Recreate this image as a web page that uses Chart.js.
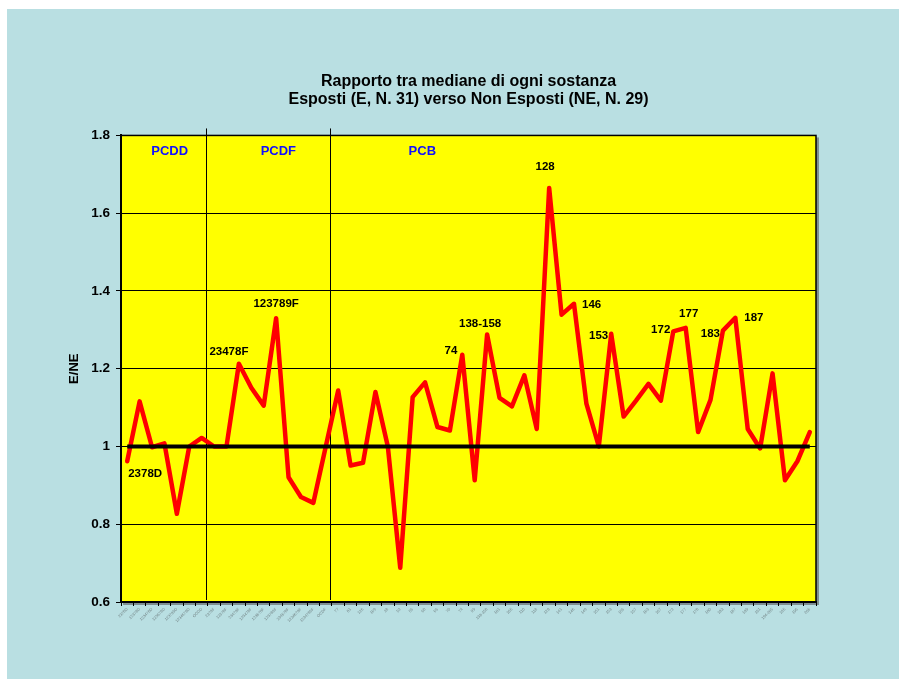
<!DOCTYPE html>
<html>
<head>
<meta charset="utf-8">
<script src="https://cdn.jsdelivr.net/npm/chart.js@4/dist/chart.umd.min.js"></script>
<style>
  html, body { margin: 0; padding: 0; background: #fff; overflow: hidden; }
  #wrap { position: absolute; left: 7px; top: 9px; width: 892px; height: 670px; background: #b9dfe2; }
</style>
</head>
<body>
<div id="wrap"><canvas id="myChart" width="892" height="670"></canvas></div>
<script>
// congeners on the x axis
var categories = [
  '2378D', '12378D', '123478D', '123678D', '123789D', '1234678D', 'OCDD',
  '2378F', '12378F', '23478F', '123478F', '123678F', '123789F', '234678F', '1234678F', '1234789F', 'OCDF',
  '77', '81', '126', '169', '28', '52', '56', '60', '66', '70', '74', '99', '138-158',
  '101', '105', '110', '118', '128', '141', '146', '149', '151', '153', '156', '157',
  '163', '167', '172', '177', '178', '180', '183', '187', '189', '191', '194-205', '195', '196', '206'
];

// E/NE ratio of medians
var ratioEN = [
  0.962, 1.116, 0.998, 1.008, 0.827, 1.0, 1.022,
  1.0, 1.0, 1.213, 1.151, 1.105, 1.33, 0.921, 0.870, 0.855, 1.0,
  1.144, 0.951, 0.958, 1.140, 1.0, 0.688, 1.127, 1.165, 1.050, 1.041, 1.236, 0.913, 1.288,
  1.125, 1.103, 1.183, 1.045, 1.665, 1.339, 1.367, 1.110, 1.0, 1.29, 1.077, 1.118,
  1.161, 1.118, 1.296, 1.305, 1.037, 1.120, 1.298, 1.331, 1.045, 0.995, 1.188, 0.913, 0.962, 1.037
];

var referenceLine = categories.map(function() { return 1; });

var labelledCategories = ['2378D', '23478F', '123789F', '74', '138-158', '128', '146', '153', '172', '177', '183', '187'];

var groups = [
  { name: 'PCDD', first: 0, last: 6 },
  { name: 'PCDF', first: 7, last: 16 },
  { name: 'PCB', first: 17, last: 55 }
];

var yTicks = [0.6, 0.8, 1.0, 1.2, 1.4, 1.6, 1.8];

var FONT = "'Liberation Sans', Arial, sans-serif";

// where each point label sits relative to its point
var labelPlacement = {
  '2378D': { align: 'left', dx: 1, dy: 13 },
  '23478F': { align: 'center', dx: -10, dy: -12 },
  '123789F': { align: 'center', dx: 0, dy: -14 },
  '74': { align: 'right', dx: -5, dy: -4 },
  '138-158': { align: 'center', dx: -7, dy: -11 },
  '128': { align: 'center', dx: -4, dy: -21 },
  '146': { align: 'left', dx: 8, dy: 1 },
  '153': { align: 'right', dx: -3, dy: 2 },
  '172': { align: 'right', dx: -3, dy: -2 },
  '177': { align: 'center', dx: 3, dy: -14 },
  '183': { align: 'right', dx: -3, dy: 3 },
  '187': { align: 'left', dx: 9, dy: 0 }
};
// header anchor, in category units
var groupHeaderPos = { 'PCDD': 3.42, 'PCDF': 12.18, 'PCB': 23.78 };

var plotBackground = {
  id: 'plotBackground',
  beforeDraw: function(chart) {
    var a = chart.chartArea, ctx = chart.ctx;
    ctx.save();
    ctx.fillStyle = '#7f8f91';
    ctx.fillRect(a.left + 2, a.top + 2, a.right - a.left + 1, a.bottom - a.top + 1);
    ctx.fillStyle = '#ffff00';
    ctx.fillRect(a.left, a.top, a.right - a.left, a.bottom - a.top);
    ctx.restore();
  },
  beforeDatasetsDraw: function(chart) {
    var a = chart.chartArea, ctx = chart.ctx, x = chart.scales.x;
    ctx.save();
    ctx.strokeStyle = '#000';
    ctx.lineWidth = 1;
    groups.forEach(function(g, i) {
      if (i > 0) {
        var px = Math.round(x.getPixelForValue(g.first - 0.62)) + 0.5;
        ctx.beginPath();
        ctx.moveTo(px, a.top - 7);
        ctx.lineTo(px, a.bottom - 2);
        ctx.stroke();
      }
      ctx.fillStyle = '#1010ff';
      ctx.font = 'bold 13px ' + FONT;
      ctx.textAlign = 'center';
      ctx.textBaseline = 'middle';
      ctx.fillText(g.name, x.getPixelForValue(groupHeaderPos[g.name]), a.top + 16);
    });
    ctx.strokeStyle = '#000';
    ctx.lineWidth = 1.5;
    ctx.strokeRect(a.left, a.top, a.right - a.left, a.bottom - a.top);
    ctx.restore();
  },
  afterDatasetsDraw: function(chart) {
    var ctx = chart.ctx, meta = chart.getDatasetMeta(0);
    ctx.save();
    ctx.fillStyle = '#000';
    ctx.font = 'bold 11.5px ' + FONT;
    ctx.textBaseline = 'middle';
    labelledCategories.forEach(function(name) {
      var i = categories.indexOf(name);
      var p = meta.data[i], pl = labelPlacement[name];
      ctx.textAlign = pl.align;
      ctx.fillText(name, p.x + pl.dx, p.y + pl.dy);
    });
    ctx.restore();
  }
};

window.onload = function() {
  var ctx = document.getElementById('myChart').getContext('2d');
  window.myLine = new Chart(ctx, {
    type: 'line',
    data: {
      labels: categories,
      datasets: [{
        label: 'E/NE',
        data: ratioEN,
        borderColor: '#ff0000',
        borderWidth: 4.5,
        borderJoinStyle: 'round',
        borderCapStyle: 'round',
        pointRadius: 0,
        lineTension: 0,
        fill: false,
        order: 2
      }, {
        label: 'E = NE',
        data: referenceLine,
        borderColor: '#000',
        borderWidth: 4,
        pointRadius: 0,
        lineTension: 0,
        fill: false,
        order: 1
      }]
    },
    options: {
      responsive: false,
      animation: false,
      devicePixelRatio: 1,
      layout: { padding: { left: 0, right: 83, top: 0, bottom: 0 } },
      plugins: {
        legend: { display: false },
        tooltip: { enabled: false },
        title: {
          display: true,
          fullSize: false,
          text: ['Rapporto tra mediane di ogni sostanza', 'Esposti (E, N. 31) verso Non Esposti (NE, N. 29)'],
          color: '#000',
          font: { family: FONT, size: 16, weight: 'bold', lineHeight: 1.17 },
          padding: { top: 63, bottom: 26 }
        }
      },
      scales: {
        x: {
          offset: true,
          afterFit: function(s) { s.height = 77; },
          grid: { drawOnChartArea: false, offset: true, color: '#000', tickLength: 4 },
          border: { color: '#000', width: 2 },
          ticks: {
            autoSkip: false,
            maxRotation: 45,
            minRotation: 45,
            padding: 1,
            color: '#6f7f80',
            font: { family: FONT, size: 4 }
          }
        },
        y: {
          min: 0.6,
          max: 1.8,
          afterFit: function(s) { s.width = 114; },
          afterBuildTicks: function(s) { s.ticks = yTicks.map(function(v) { return { value: v }; }); },
          grid: { color: '#000', lineWidth: 1, tickLength: 5 },
          border: { color: '#000', width: 2 },
          title: {
            display: true,
            text: 'E/NE',
            color: '#000',
            font: { family: FONT, size: 13, weight: 'bold' },
            padding: { top: 60, bottom: 0 }
          },
          ticks: {
            padding: 6,
            color: '#000',
            font: { family: FONT, size: 13.5, weight: 'bold' },
            callback: function(v) { return String(Math.round(v * 10) / 10); }
          }
        }
      }
    },
    plugins: [plotBackground]
  });
};
</script>
</body>
</html>
